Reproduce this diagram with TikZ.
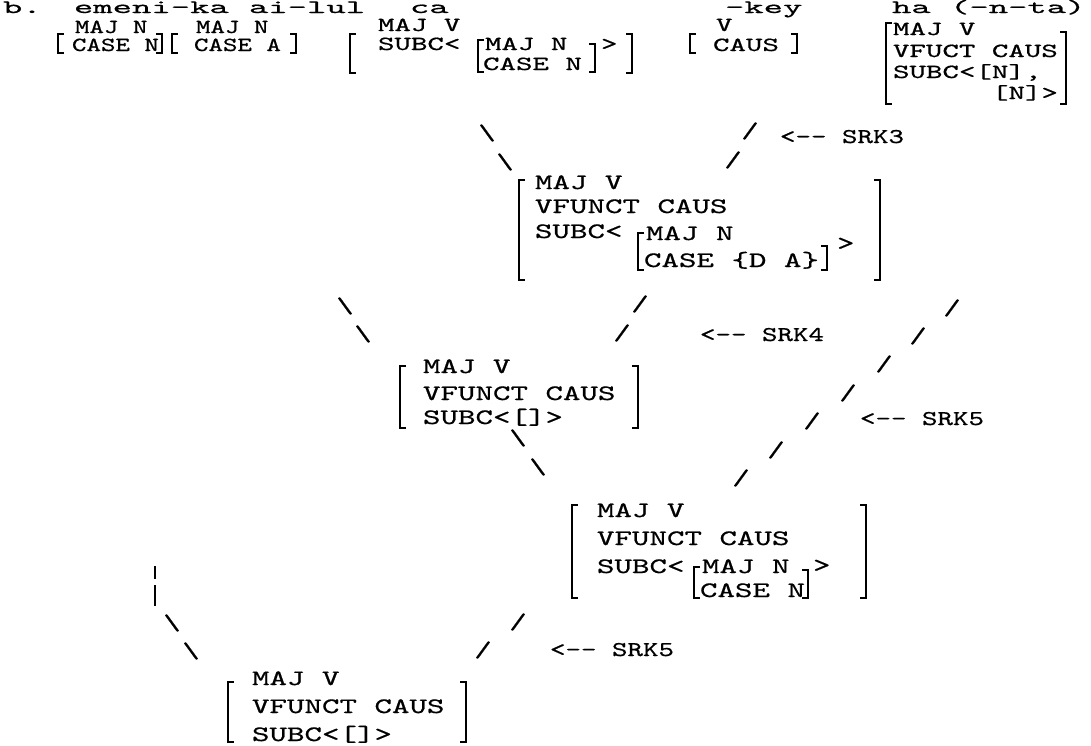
\documentclass[tikz,border=0pt]{standalone}
\usepackage{fontspec}
\newfontfamily\twA{lmmono10-regular.otf}[FakeStretch=1.94,FakeBold=0.7]
\newfontfamily\twB{lmmono10-regular.otf}[FakeStretch=1.38,FakeBold=0.7]
\newfontfamily\twE{lmmono10-regular.otf}[FakeStretch=1.57,FakeBold=0.7]
\newfontfamily\twC{lmmono10-regular.otf}[FakeStretch=1.515,FakeBold=0.7]
\newfontfamily\twD{lmmono10-regular.otf}[FakeStretch=1.406,FakeBold=0.7]
\newcommand\LBk[3]{\draw[brk] (#1+6,#2) -- (#1,#2) -- (#1,#3) -- (#1+6,#3);}
\newcommand\RBk[3]{\draw[brk] (#1-6,#2) -- (#1,#2) -- (#1,#3) -- (#1-6,#3);}
\newcommand\dd{-\kern0pt-}
\tikzset{
  tA/.style={font=\twA\fontsize{9.5}{10}\selectfont, anchor=base west, inner sep=0pt, outer sep=0pt},
  tB/.style={font=\twB\fontsize{10}{11}\selectfont, anchor=base west, inner sep=0pt, outer sep=0pt},
  tE/.style={font=\twE\fontsize{10}{11}\selectfont, anchor=base west, inner sep=0pt, outer sep=0pt},
  tC/.style={font=\twC\fontsize{11}{12}\selectfont, anchor=base west, inner sep=0pt, outer sep=0pt},
  tD/.style={font=\twD\fontsize{10.5}{12}\selectfont, anchor=base west, inner sep=0pt, outer sep=0pt},
  sl/.style={font=\twC\fontsize{11}{12}\selectfont, anchor=center, inner sep=0pt, outer sep=0pt},
  brk/.style={line width=1pt, line cap=butt, line join=miter},
}
\begin{document}
\begin{tikzpicture}[x=0.5pt,y=-0.5pt]
\fill[white] (0,0) rectangle (1091,745);
\useasboundingbox (0,0) rectangle (1091,745);
% row 0
\node[tA] (r0a) at (3,13) {b.};
\node[tA] (r0b) at (74,13) {emeni-ka};
\node[tA] (r0c) at (249,13) {ai-lul};
\node[tA] (r0d) at (410,13) {ca};
\node[tA] (r0e) at (725,13) {-key};
\node[tA] (r0f) at (892,13) {ha (-n-ta)};
% B1
\LBk{58}{34}{53}
\node[tB] (b1a) at (75,33) {MAJ N};
\node[tB] (b1b) at (72,51) {CASE N};
\RBk{162}{34}{53}
% B2
\LBk{172}{34}{53}
\node[tB] (b2a) at (196,33) {MAJ N};
\node[tB] (b2b) at (194,51) {CASE A};
\RBk{296}{34}{53}
% B3
\LBk{350}{34}{73}
\node[tE] (b3a) at (378,31) {MAJ V};
\node[tE] (b3b) at (378,50) {SUBC<};
\LBk{478}{40}{72}
\node[tE] (b3c) at (485,50) {MAJ N};
\node[tE] (b3d) at (483,70) {CASE N};
\RBk{595}{44}{72}
\node[tE] (b3e) at (601,50) {>};
\RBk{632}{34}{73}
% B4
\LBk{690}{34}{53}
\node[tE] (b4a) at (716,31) {V};
\node[tE] (b4b) at (713,51) {CAUS};
\RBk{797}{34}{53}
% ha node
\LBk{886}{23}{104}
\node[tE] (h1) at (893,35) {MAJ V};
\node[tE] (h2) at (893,57) {VFUCT CAUS};
\node[tE] (h3) at (893,78) {SUBC<[N],};
\node[tE] (h4) at (992,99) {[N]>};
\RBk{1066}{32}{104}
% upper slashes
\node[sl] (u1) at (487,133) {\textbackslash};
\node[sl] (u2) at (505,162) {\textbackslash};
\node[sl] (u3) at (750,131) {/};
\node[sl] (u4) at (733,160) {/};
\node[tD] (srk3) at (780,143) {<\dd{} SRK3};
% node 2
\LBk{519}{180}{280}
\node[tC] (n2a) at (535,189) {MAJ V};
\node[tC] (n2b) at (535,213) {VFUNCT CAUS};
\node[tC] (n2c) at (535,238) {SUBC<};
\LBk{638}{233}{270}
\node[tC] (n2d) at (646,240) {MAJ N};
\node[tC] (n2e) at (644,267) {CASE \{D A\}};
\RBk{827}{246}{270}
\node[tC] (n2f) at (837,250) {>};
\RBk{880}{180}{280}
% slashes below node 2
\node[sl] (l1) at (345,306) {\textbackslash};
\node[sl] (l2) at (363,334) {\textbackslash};
\node[sl] (m1) at (640,304) {/};
\node[sl] (m2) at (622,333) {/};
\node[tD] (srk4) at (700,341) {<\dd{} SRK4};
\node[sl] (c1) at (952,308) {/};
\node[sl] (c2) at (918,336) {/};
\node[sl] (c3) at (884,364) {/};
\node[sl] (c4) at (848,393) {/};
\node[sl] (c5) at (812,421) {/};
\node[sl] (c6) at (776,450) {/};
\node[sl] (c7) at (741,478) {/};
\node[tD] (srk5a) at (860,425) {<\dd{} SRK5};
% node 3
\LBk{400}{366}{428}
\node[tC] (n3a) at (423,373) {MAJ V};
\node[tC] (n3b) at (423,400) {VFUNCT CAUS};
\node[tC] (n3c) at (423,424) {SUBC<[]>};
\RBk{638}{366}{428}
\node[sl] (d1) at (518,438) {\textbackslash};
\node[sl] (d2) at (538,467) {\textbackslash};
% node 4
\LBk{572}{505}{598}
\node[tC] (n4a) at (597,517) {MAJ V};
\node[tC] (n4b) at (597,545) {VFUNCT CAUS};
\node[tC] (n4c) at (597,573) {SUBC<};
\LBk{694}{567}{598}
\node[tC] (n4d) at (702,573) {MAJ N};
\node[tC] (n4e) at (700,597) {CASE N};
\RBk{808}{570}{598}
\node[tC] (n4f) at (813,572) {>};
\RBk{866}{505}{598}
% below node 4
\node[sl] (e1) at (518,622) {/};
\node[sl] (e2) at (483,650) {/};
\node[tD] (srk5b) at (550,656) {<\dd{} SRK5};
\draw[brk] (155,566) -- (155,579);
\draw[brk] (155,585) -- (155,606);
\node[sl] (f1) at (172,623) {\textbackslash};
\node[sl] (f2) at (191,651) {\textbackslash};
% node 5
\LBk{228}{682}{742}
\node[tC] (n5a) at (252,685) {MAJ V};
\node[tC] (n5b) at (252,713) {VFUNCT CAUS};
\node[tC] (n5c) at (252,741) {SUBC<[]>};
\RBk{466}{682}{742}
\end{tikzpicture}
\end{document}
